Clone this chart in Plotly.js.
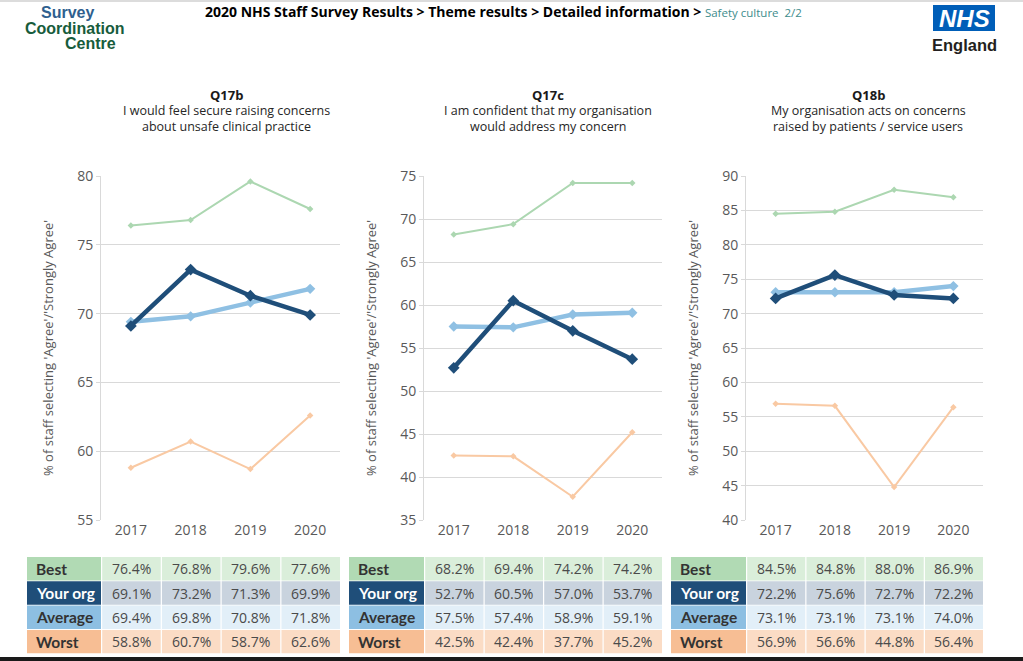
<!DOCTYPE html>
<html>
<head>
<meta charset="utf-8">
<script src="https://cdn.plot.ly/plotly-3.0.1.min.js"></script>
<style>html,body{margin:0;padding:0;background:#fff;}#chart{width:1023px;height:661px;}</style>
</head>
<body>
<div id="chart"></div>
<script>
// ---- data ----
var years = ['2017', '2018', '2019', '2020'];
var rowLabels = ['Best', 'Your org', 'Average', 'Worst'];

var q17bTitle = 'Q17b';
var q17bText = ['I would feel secure raising concerns', 'about unsafe clinical practice'];
var q17bBest = [76.4, 76.8, 79.6, 77.6];
var q17bYour = [69.1, 73.2, 71.3, 69.9];
var q17bAvg = [69.4, 69.8, 70.8, 71.8];
var q17bWorst = [58.8, 60.7, 58.7, 62.6];
var q17bRange = [55, 80];

var q17cTitle = 'Q17c';
var q17cText = ['I am confident that my organisation', 'would address my concern'];
var q17cBest = [68.2, 69.4, 74.2, 74.2];
var q17cYour = [52.7, 60.5, 57.0, 53.7];
var q17cAvg = [57.5, 57.4, 58.9, 59.1];
var q17cWorst = [42.5, 42.4, 37.7, 45.2];
var q17cRange = [35, 75];

var q18bTitle = 'Q18b';
var q18bText = ['My organisation acts on concerns', 'raised by patients / service users'];
var q18bBest = [84.5, 84.8, 88.0, 86.9];
var q18bYour = [72.2, 75.6, 72.7, 72.2];
var q18bAvg = [73.1, 73.1, 73.1, 74.0];
var q18bWorst = [56.9, 56.6, 44.8, 56.4];
var q18bRange = [40, 90];

var yTitle = "% of staff selecting 'Agree'/'Strongly Agree'";
var headerMain = '2020 NHS Staff Survey Results &gt; Theme results &gt; Detailed information &gt; ';
var headerSub = 'Safety culture&nbsp;&nbsp;2/2';

// ---- styling ----
var W = 1023, H = 661;
var FONT = 'Open Sans, Lato, sans-serif';
var LABELFONT = 'Lato, Open Sans, sans-serif';
var LOGOFONT = 'Liberation Sans, Arial, sans-serif';
var colBest = '#acd7b1', colYour = '#1f4e79', colAvg = '#8fc0e3', colWorst = '#f9c9a3';
var labelFill = ['#b1dab4', '#1f4e79', '#8dbfe2', '#f7be94'];
var valueFill = ['#daeeda', '#c9d3de', '#e2eff8', '#fbdcc5'];
var labelText = ['#333333', '#ffffff', '#333333', '#333333'];
var grid = '#d9d9d9';
var textGrey = '#595959';

var charts = [
  {t: q17bTitle, s: q17bText, best: q17bBest, your: q17bYour, avg: q17bAvg, worst: q17bWorst, r: q17bRange, x0: 101, x1: 340, tx0: 27, cx: 226},
  {t: q17cTitle, s: q17cText, best: q17cBest, your: q17cYour, avg: q17cAvg, worst: q17cWorst, r: q17cRange, x0: 424, x1: 662, tx0: 349, cx: 548},
  {t: q18bTitle, s: q18bText, best: q18bBest, your: q18bYour, avg: q18bAvg, worst: q18bWorst, r: q18bRange, x0: 746, x1: 983, tx0: 671, cx: 868}
];

var plotTop = 176, plotBottom = 520;
function py(p) { return (H - p) / H; }
function px(p) { return p / W; }

var data = [];
var layout = {
  width: W, height: H, autosize: false,
  margin: {l: 0, r: 0, t: 0, b: 0, pad: 0},
  paper_bgcolor: '#ffffff', plot_bgcolor: 'rgba(0,0,0,0)',
  showlegend: false,
  font: {family: FONT, color: textGrey},
  annotations: [], shapes: []
};

function fmt(v) { return v.toFixed(1) + '%'; }
function ann(x, y, text, size, color, anchor, family, extra) {
  var a = {xref: 'paper', yref: 'paper', x: px(x), y: py(y), xanchor: anchor || 'center', yanchor: 'middle',
    text: text, showarrow: false, font: {size: size, color: color, family: family || FONT}};
  if (extra) for (var k in extra) a[k] = extra[k];
  layout.annotations.push(a);
}
function rect(x0, x1, y0, y1, fill) {
  layout.shapes.push({type: 'rect', xref: 'paper', yref: 'paper', x0: px(x0), x1: px(x1), y0: py(y1), y1: py(y0),
    fillcolor: fill, line: {width: 0}, layer: 'below'});
}

charts.forEach(function (c, i) {
  var n = i === 0 ? '' : String(i + 1);
  var xa = 'x' + n, ya = 'y' + n;
  var series = [
    {y: c.best, col: colBest, w: 2, ms: 5},
    {y: c.worst, col: colWorst, w: 2, ms: 5},
    {y: c.avg, col: colAvg, w: 4.5, ms: 8},
    {y: c.your, col: colYour, w: 4.5, ms: 9}
  ];
  series.forEach(function (s) {
    data.push({
      type: 'scatter', mode: 'lines+markers', x: years, y: s.y,
      xaxis: xa, yaxis: ya, hoverinfo: 'skip',
      line: {color: s.col, width: s.w},
      marker: {symbol: 'diamond', size: s.ms, color: s.col}
    });
  });
  layout['xaxis' + n] = {
    domain: [px(c.x0), px(c.x1)], anchor: ya, type: 'category',
    range: [-0.5, 3.5], showgrid: false, zeroline: false, showline: false,
    ticks: '', tickfont: {size: 14, color: textGrey, family: FONT}, fixedrange: true
  };
  layout['yaxis' + n] = {
    domain: [py(plotBottom), py(plotTop)], anchor: xa, range: c.r, dtick: 5,
    showgrid: true, gridcolor: grid, gridwidth: 1, zeroline: false,
    showline: true, linecolor: grid, linewidth: 1,
    ticks: 'outside', ticklen: 4, tickcolor: grid,
    tickfont: {size: 14, color: textGrey, family: FONT}, fixedrange: true
  };
  // titles
  ann(c.cx, 95, '<b>' + c.t + '</b>', 13, '#1a1a1a');
  ann(c.cx, 110.5, c.s[0], 12.5, '#262626');
  ann(c.cx, 126.5, c.s[1], 12.5, '#262626');
  ann(c.x0 - 53, 348, yTitle, 13, textGrey, 'center', FONT, {textangle: -90});

  // table (built from the data arrays)
  var rows = [c.best, c.your, c.avg, c.worst];
  var cw = (c.x1 - c.x0) / years.length;
  for (var r = 0; r < rowLabels.length; r++) {
    var top = 557 + r * 24.3, bot = top + 23.4, mid = (top + bot) / 2;
    rect(c.tx0, c.x0, top, bot, labelFill[r]);
    ann(c.tx0 + 7, mid, '<b>' + rowLabels[r] + '</b>', 15.5, labelText[r], 'left', LABELFONT);
    for (var k = 0; k < years.length; k++) {
      var cx0 = c.x0 + k * cw + 1.2, cx1 = c.x0 + (k + 1) * cw;
      rect(cx0, cx1, top, bot, valueFill[r]);
      ann((cx0 + cx1) / 2, mid, fmt(rows[r][k]), 14, '#4a4a4a');
    }
  }
});

// header
layout.annotations.push({
  xref: 'paper', yref: 'paper', x: px(203), y: py(12), xanchor: 'left', yanchor: 'middle',
  text: '<b>' + headerMain + '</b><span style="color:#3d8c8c;font-size:11.5px">' + headerSub + '</span>',
  showarrow: false, font: {size: 14, color: '#000000', family: FONT}
});
// left logo
ann(67, 13, '<b>Survey</b>', 16, '#2f5f8f', 'center', LOGOFONT);
ann(75, 28.5, '<b>Coordination</b>', 16, '#175c3c', 'center', LOGOFONT);
ann(90, 44, '<b>Centre</b>', 16, '#175c3c', 'center', LOGOFONT);
// NHS logo
layout.shapes.push({type: 'rect', xref: 'paper', yref: 'paper', x0: px(933), x1: px(995), y0: py(31), y1: py(5),
  fillcolor: '#005eb8', line: {width: 0}});
ann(964, 18.5, '<b><i>NHS</i></b>', 24, '#ffffff', 'center', LOGOFONT);
ann(964.5, 45, '<b>England</b>', 16.5, '#231f20', 'center', LOGOFONT);
// top shadow and bottom bar
layout.shapes.push({type: 'rect', xref: 'paper', yref: 'paper', x0: 0, x1: 1, y0: py(2), y1: py(0),
  fillcolor: '#dcdcdc', line: {width: 0}});
layout.shapes.push({type: 'rect', xref: 'paper', yref: 'paper', x0: 0, x1: 1, y0: py(661), y1: py(657),
  fillcolor: '#1a1a1a', line: {width: 0}});

Plotly.newPlot('chart', data, layout, {displayModeBar: false, staticPlot: true});
</script>
</body>
</html>
